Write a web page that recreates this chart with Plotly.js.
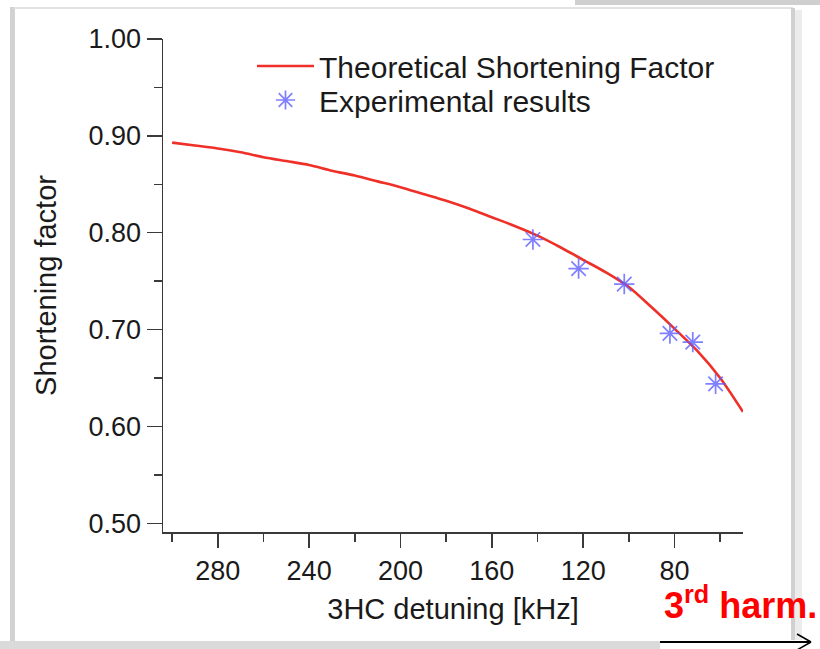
<!DOCTYPE html>
<html>
<head>
<meta charset="utf-8">
<script src="https://cdn.plot.ly/plotly-3.0.1.min.js"></script>
<style>
html,body{margin:0;padding:0;background:#fff;}
#chart{width:820px;height:649px;}
</style>
</head>
<body>
<div id="chart"></div>
<script>
// ---- data ----
var theoryX = [300,290,280,270,260,250,240,230,220,210,200,190,180,170,160,150,140,130,120,110,100,90,80,70,60,50];
var theoryY = [0.893,0.890,0.887,0.883,0.878,0.874,0.870,0.864,0.859,0.853,0.847,0.840,0.833,0.825,0.816,0.807,0.797,0.785,0.772,0.759,0.744,0.723,0.701,0.678,0.650,0.615];
var expX = [142,122,102,82,72,62];
var expY = [0.793,0.763,0.747,0.696,0.687,0.644];
var theoryName = "Theoretical Shortening Factor";
var expName = "Experimental results";
var xTitle = "3HC detuning [kHz]";
var yTitle = "Shortening factor";
var noteText = "3<sup>rd</sup> harm.";

// ---- layout geometry (pixels) ----
var L = 163, R = 743, T = 39, B = 532, FW = 820, FH = 649;
var PW = R - L, PH = B - T;
function px(x){ return (x - L) / PW; }
function py(y){ return (B - y) / PH; }

var axisColor = "#3a3a3a";
var font = "Liberation Sans, Arial, Helvetica, sans-serif";

var traces = [
  {
    x: theoryX, y: theoryY, type: "scatter", mode: "lines", name: theoryName, legend: "legend",
    line: {color: "rgb(238,48,40)", width: 2.6, shape: "spline", smoothing: 0.8}
  },
  {
    x: expX, y: expY, type: "scatter", mode: "markers", name: expName, legend: "legend2",
    marker: {symbol: "asterisk-open", size: 17, color: "rgba(95,95,255,0.8)",
             line: {color: "rgba(95,95,255,0.8)", width: 1.7}}
  }
];

var shapes = [
  // top-right grey strip (element above the panel)
  {type:"rect", xref:"paper", yref:"paper", x0:px(575), x1:px(820), y0:py(5), y1:py(0),
   fillcolor:"#cfcfcf", line:{width:0}, layer:"below"},
  // panel shadow edges
  {type:"rect", xref:"paper", yref:"paper", x0:px(10), x1:px(15), y0:py(649), y1:py(7),
   fillcolor:"#d2d2d2", line:{width:0}, layer:"below"},
  {type:"line", xref:"paper", yref:"paper", x0:px(14), x1:px(793), y0:py(8), y1:py(8),
   line:{color:"#e2e2e2", width:2}, layer:"below"},
  {type:"rect", xref:"paper", yref:"paper", x0:px(791), x1:px(795), y0:py(640), y1:py(8),
   fillcolor:"#d0d0d0", line:{width:0}, layer:"below"},
  {type:"rect", xref:"paper", yref:"paper", x0:px(795), x1:px(802), y0:py(640), y1:py(10),
   fillcolor:"#ececec", line:{width:0}, layer:"below"},
  {type:"rect", xref:"paper", yref:"paper", x0:px(0), x1:px(660), y0:py(649), y1:py(641),
   fillcolor:"#dadada", line:{width:0}, layer:"below"},
  // arrow under the note
  {type:"line", xref:"paper", yref:"paper", x0:px(660), x1:px(811), y0:py(642), y1:py(642),
   line:{color:"#000", width:2}},
  {type:"line", xref:"paper", yref:"paper", x0:px(797), y0:py(634), x1:px(811), y1:py(642),
   line:{color:"#000", width:1.5}},
  {type:"line", xref:"paper", yref:"paper", x0:px(797), y0:py(650), x1:px(811), y1:py(642),
   line:{color:"#000", width:1.5}}
];

var legendFont = {size: 30, family: font, color: "#1a1a1a"};

var layout = {
  width: FW, height: FH,
  margin: {l: L, r: FW - R, t: T, b: FH - B, pad: 0},
  paper_bgcolor: "#ffffff", plot_bgcolor: "#ffffff",
  font: {family: font, color: "#1a1a1a"},
  showlegend: true,
  legend: {x: px(252), y: py(40), xanchor: "left", yanchor: "top",
           bgcolor: "rgba(0,0,0,0)", borderwidth: 0, font: legendFont, itemwidth: 57},
  legend2: {x: px(252), y: py(74), xanchor: "left", yanchor: "top",
           bgcolor: "rgba(0,0,0,0)", borderwidth: 0, font: legendFont, itemwidth: 57},
  xaxis: {
    range: [304, 50], autorange: false,
    tickmode: "linear", tick0: 0, dtick: 40,
    ticks: "outside", ticklen: 14, tickwidth: 1.5, tickcolor: axisColor,
    showline: true, linecolor: axisColor, linewidth: 1.5,
    showgrid: false, zeroline: false,
    tickfont: {size: 27, family: font, color: "#1a1a1a"},
    minor: {dtick: 20, tick0: 0, ticks: "outside", ticklen: 8, tickwidth: 1.5, tickcolor: axisColor, showgrid: false},
    title: {text: xTitle, font: {size: 29, family: font, color: "#1a1a1a"}, standoff: 14}
  },
  yaxis: {
    range: [0.491, 1.0], autorange: false,
    tickmode: "linear", tick0: 0, dtick: 0.1, tickformat: ".2f",
    ticks: "outside", ticklen: 15, tickwidth: 1.5, tickcolor: axisColor,
    showline: true, linecolor: axisColor, linewidth: 1.5,
    showgrid: false, zeroline: false,
    tickfont: {size: 27, family: font, color: "#1a1a1a"},
    minor: {dtick: 0.05, tick0: 0, ticks: "outside", ticklen: 8, tickwidth: 1.5, tickcolor: axisColor, showgrid: false},
    title: {text: yTitle, font: {size: 29, family: font, color: "#1a1a1a"}, standoff: 23}
  },
  shapes: shapes,
  annotations: [
    {xref: "paper", yref: "paper", x: px(662), y: py(628), xanchor: "left", yanchor: "bottom",
     text: "<b>" + noteText + "</b>", showarrow: false,
     font: {size: 36, family: font, color: "#ff0000"}}
  ]
};

Plotly.newPlot("chart", traces, layout, {staticPlot: true, displayModeBar: false});
</script>
</body>
</html>
